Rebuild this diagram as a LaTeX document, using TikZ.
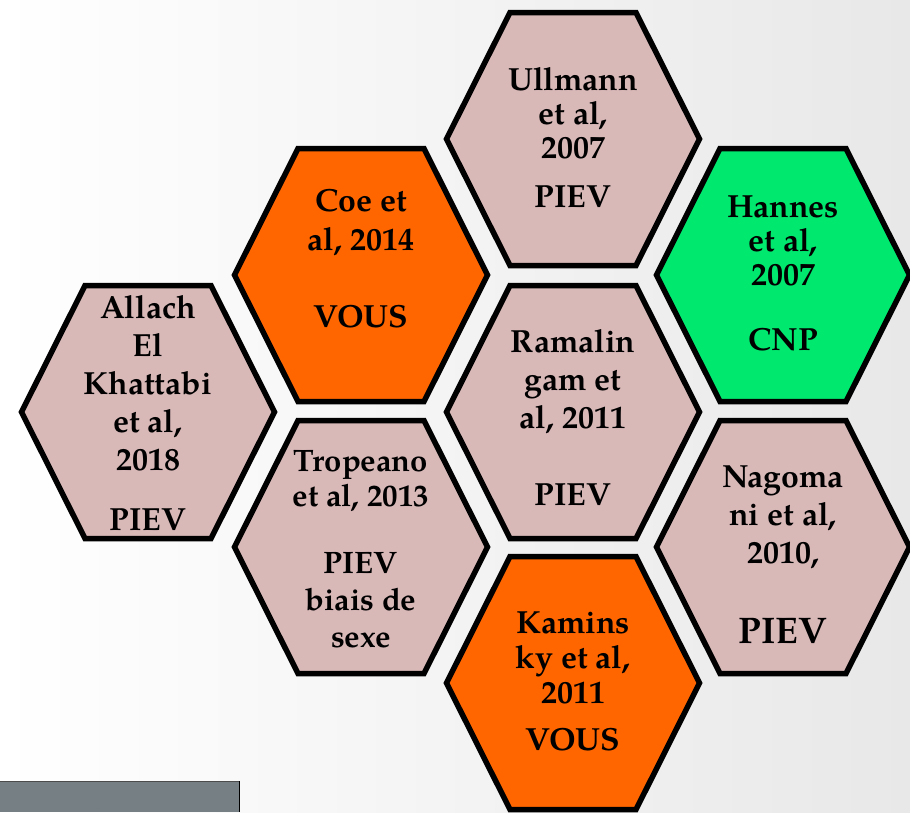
\documentclass[tikz,border=0pt]{standalone}
\usepackage{fontspec}
\setmainfont{TeX Gyre Pagella}
\usetikzlibrary{positioning}

\definecolor{pinkcell}{RGB}{217,184,184}
\definecolor{orangecell}{RGB}{255,102,0}
\definecolor{greencell}{RGB}{0,232,110}
\definecolor{bggray}{RGB}{232,232,232}
\definecolor{panelgray}{RGB}{117,127,132}

% one hexagon round a named centre
\newcommand{\drawhex}[2]{\draw[hexcell, fill=#2, shift={(#1)}] (-126.5,0) -- (-63,-126.5) -- (63,-126.5) -- (126.5,0) -- (63,126.5) -- (-63,126.5) -- cycle;}

\begin{document}
\begin{tikzpicture}[x=1pt, y=-1pt,
    hexcell/.style={draw=black, line width=5.5pt, line join=miter, miter limit=10},
    celltext/.style={align=center, font=\bfseries\fontsize{32}{38}\selectfont, inner sep=0pt, anchor=base}
    ]
    \useasboundingbox (0,0) rectangle (910,812);
    \shade[left color=white, middle color=white, right color=bggray] (0,0) rectangle (910,812);

    \coordinate (ullmann) at (573,139);
    \coordinate (coe) at (361,275);
    \coordinate (hannes) at (783,275);
    \coordinate (allach) at (148,412);
    \coordinate (ramalingam) at (573,412);
    \coordinate (tropeano) at (361,547);
    \coordinate (nagomani) at (783,547);
    \coordinate (kaminsky) at (573,683);

    \drawhex{ullmann}{pinkcell}
    \drawhex{coe}{orangecell}
    \drawhex{hannes}{greencell}
    \drawhex{allach}{pinkcell}
    \drawhex{ramalingam}{pinkcell}
    \drawhex{tropeano}{pinkcell}
    \drawhex{nagomani}{pinkcell}
    \drawhex{kaminsky}{orangecell}

    \node [celltext, font=\bfseries\fontsize{32}{34}\selectfont] (t-ullmann) at (573,207) {Ullmann\\et al,\\2007\\[15pt]PIEV};
    \node [celltext, font=\bfseries\fontsize{32}{39}\selectfont] (t-coe) at (361,327) {Coe et\\al, 2014\\[38pt]VOUS};
    \node [celltext, font=\bfseries\fontsize{32}{34}\selectfont] (t-hannes) at (783,350) {Hannes\\et al,\\2007\\[31pt]CNP};
    \node [celltext] (t-allach) at (148,530) {Allach\\El\\Khattabi\\et al,\\2018\\[22pt]PIEV};
    \node [celltext] (t-ramalingam) at (573,505) {Ramalin\\gam et\\al, 2011\\[39pt]PIEV};
    \node [celltext, font=\bfseries\fontsize{31}{37}\selectfont] (t-tropeano) at (361,647) {Tropeano\\[-2pt]et al, 2013\\[30pt]PIEV\\biais de\\sexe};
    \node [celltext] (t-nagomani) at (783,643) {Nagoma\\ni et al,\\2010,\\[42pt]{\fontsize{37}{38}\selectfont PIEV}};
    \node [celltext, font=\bfseries\fontsize{32}{35}\selectfont] (t-kaminsky) at (573,750) {Kamins\\ky et al,\\2011\\[12pt]VOUS};

    % grey strip at the bottom left
    \fill[panelgray] (0,781) rectangle (240,812);
    \draw[gray!60!black, line width=1pt] (0,781.5) -- (240,781.5);
    \draw[black, line width=1pt] (239.5,781) -- (239.5,812);
\end{tikzpicture}
\end{document}
